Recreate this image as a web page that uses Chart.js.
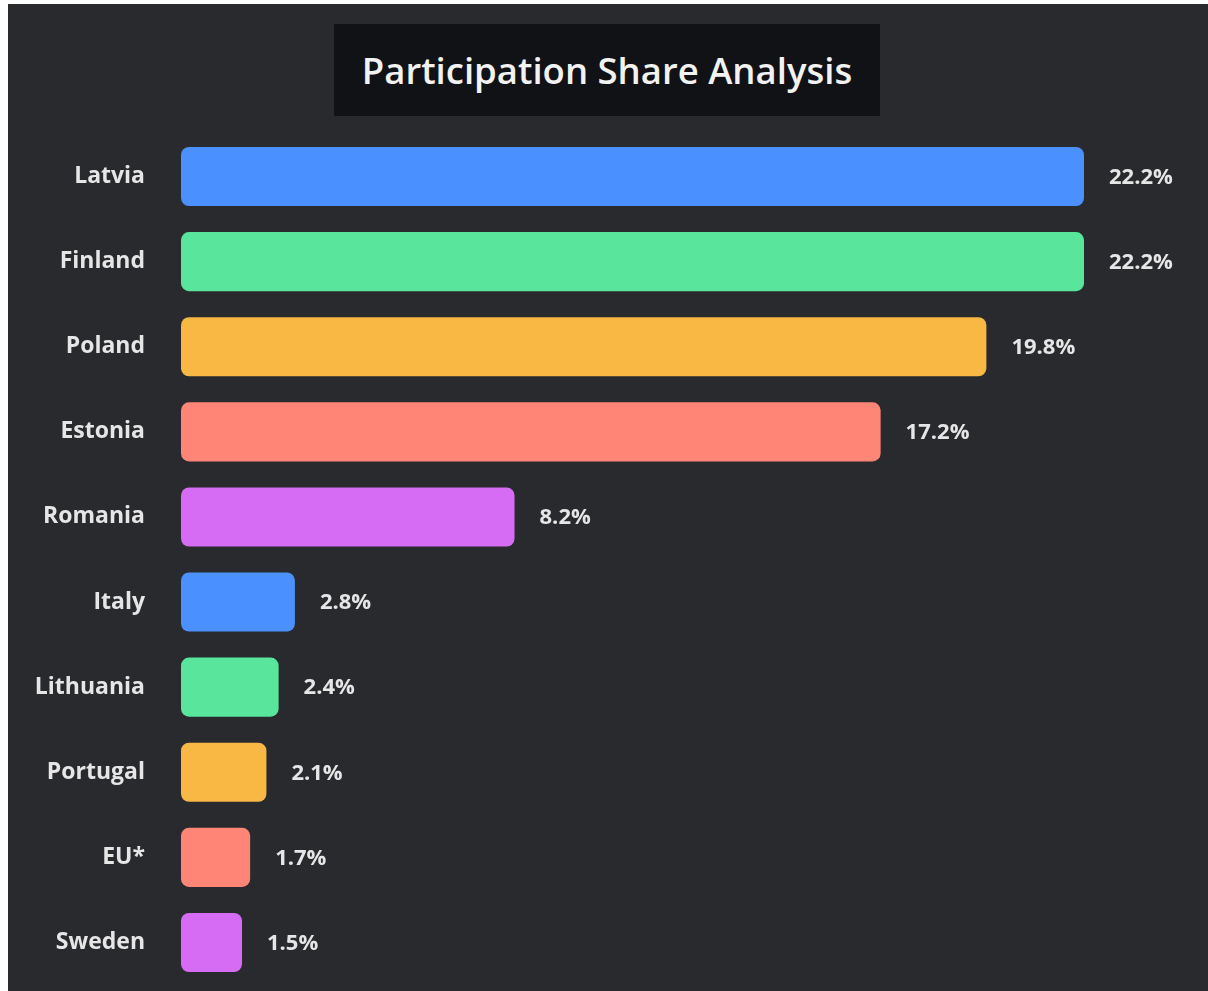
<!DOCTYPE html>
<html>
<head>
<meta charset="utf-8">
<title>Participation Share Analysis</title>
<script src="https://cdn.jsdelivr.net/npm/chart.js@4.4.1/dist/chart.umd.min.js"></script>
<style>
  html, body { margin: 0; padding: 0; background: #ffffff; }
  .panel {
    position: absolute; left: 8px; top: 4px; width: 1200px; height: 987px;
    background: #292a2d;
  }
  .title {
    position: absolute; top: 20px; left: 326px; width: 546px; height: 92px;
    background: #111216; color: #f2f2f2;
    font: 600 36.5px "Open Sans", sans-serif; line-height: 92px; text-align: center;
  }
  #chart { position: absolute; left: 0; top: 0; }
</style>
</head>
<body>
<div class="panel">
  <canvas id="chart" width="1200" height="987"></canvas>
  <div class="title">Participation Share Analysis</div>
</div>
<script>
// ---- Data ----
const countries = ['Latvia', 'Finland', 'Poland', 'Estonia', 'Romania', 'Italy', 'Lithuania', 'Portugal', 'EU*', 'Sweden'];
const shares = [22.2, 22.2, 19.8, 17.2, 8.2, 2.8, 2.4, 2.1, 1.7, 1.5];
const palette = ['#4a90ff', '#5ae59c', '#f9b844', '#ff8677', '#d66cf4'];

const labelColor = '#e6e6e6';
const labelFont = { family: '"Open Sans", sans-serif', size: 23, weight: '700' };

// ---- Value labels at the end of each bar ----
const valueLabels = {
  id: 'valueLabels',
  afterDatasetsDraw(chart) {
    const ctx = chart.ctx;
    const meta = chart.getDatasetMeta(0);
    ctx.save();
    ctx.fillStyle = labelColor;
    ctx.font = `${labelFont.weight} ${labelFont.size - 1}px ${labelFont.family}`;
    ctx.textAlign = 'left';
    ctx.textBaseline = 'middle';
    meta.data.forEach((bar, i) => {
      ctx.fillText(shares[i].toFixed(1) + '%', bar.x + 25, bar.y + 1);
    });
    ctx.restore();
  }
};

new Chart(document.getElementById('chart'), {
  type: 'bar',
  data: {
    labels: countries,
    datasets: [{
      data: shares,
      backgroundColor: countries.map((c, i) => palette[i % palette.length]),
      borderRadius: 8, borderSkipped: false,
      categoryPercentage: 1, barPercentage: 0.694
    }]
  },
  options: {
    indexAxis: 'y',
    responsive: false, animation: false,
    layout: { padding: { top: 130, bottom: 6, right: 124, left: 0 } },
    plugins: { legend: { display: false }, tooltip: { enabled: false } },
    scales: {
      x: { display: false, min: 0, max: 22.2 },
      y: {
        grid: { display: false, drawTicks: false },
        border: { display: false },
        ticks: { color: labelColor, font: labelFont, padding: 36 },
        afterFit(scale) {
          scale.width = 173;
          scale.paddingTop = 0;
          scale.paddingBottom = 0;
        }
      }
    }
  },
  plugins: [valueLabels]
});
</script>
</body>
</html>
